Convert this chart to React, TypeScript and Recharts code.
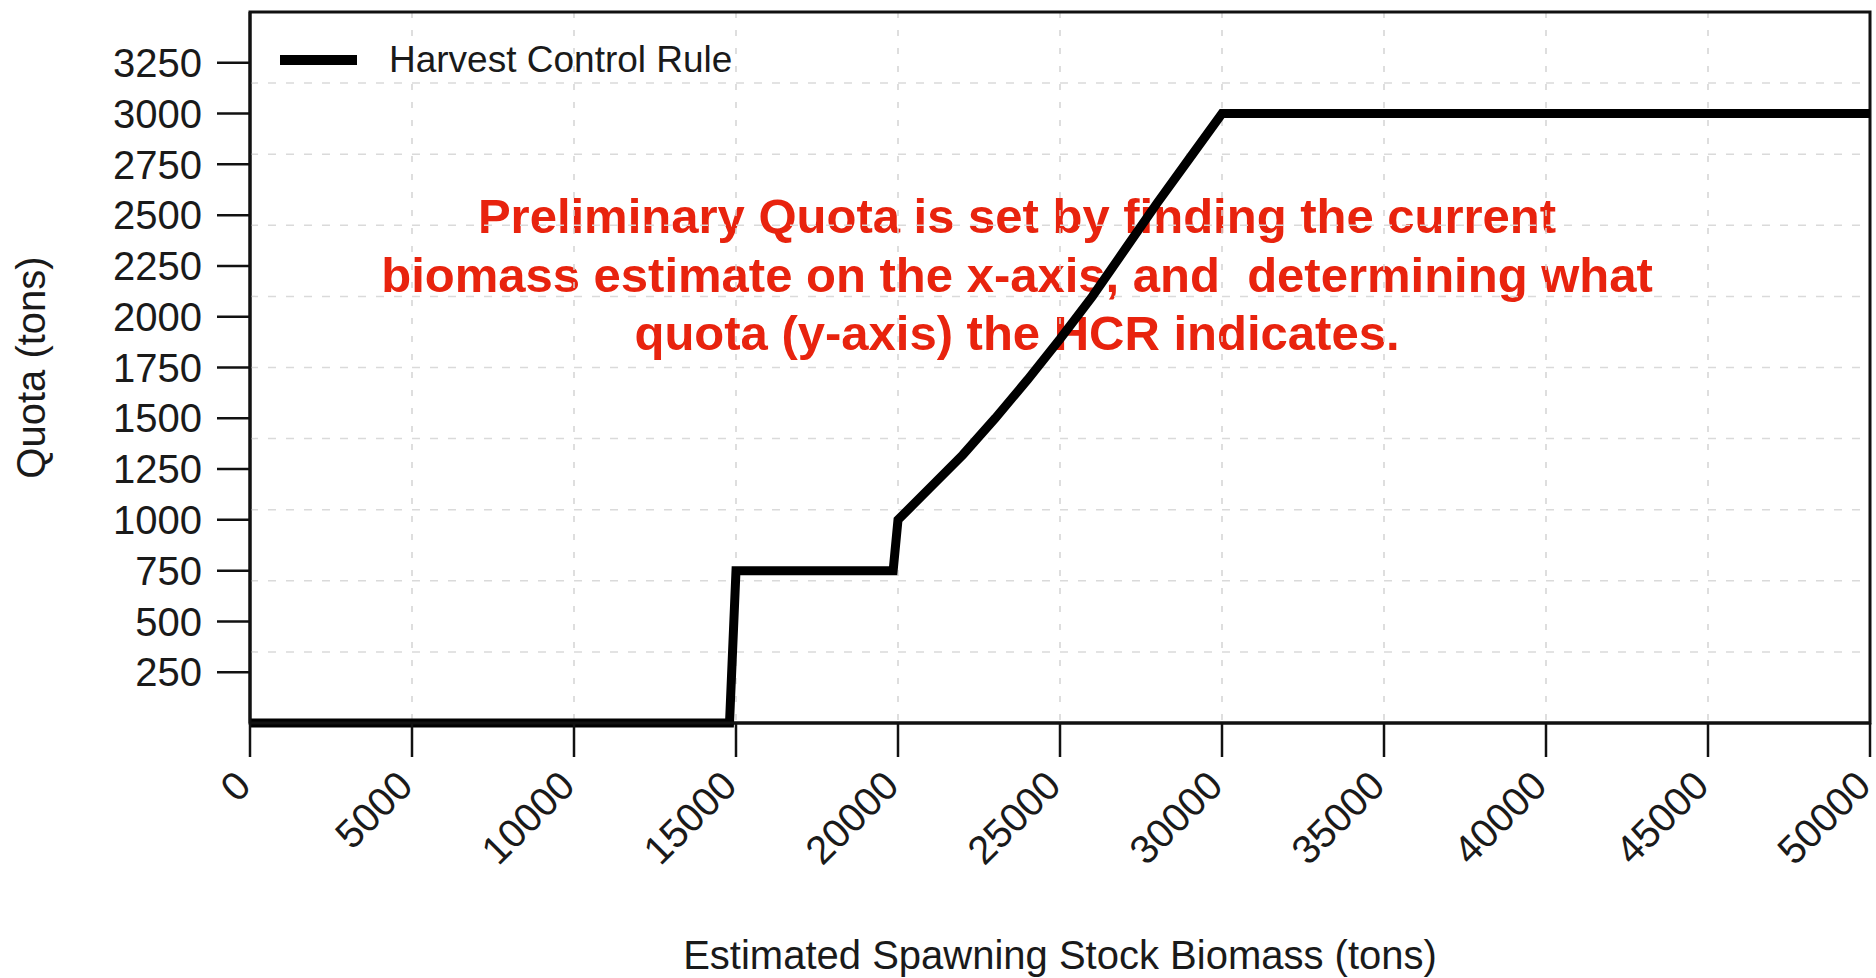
import { LineChart, Line, XAxis, YAxis, CartesianGrid, ReferenceLine, ReferenceArea, Legend } from 'recharts'

// Harvest control rule: estimated SSB (tons) -> quota (tons)
const biomass = [0, 14800, 15000, 19850, 20000, 21000, 22000, 23000, 24000, 25000, 26000, 27000, 28000, 29000, 30000, 50000]
const quota = [0, 0, 750, 750, 1000, 1160, 1320, 1500, 1690, 1890, 2100, 2330, 2560, 2780, 3000, 3000]

const xTicks = [0, 5000, 10000, 15000, 20000, 25000, 30000, 35000, 40000, 45000, 50000]
const yTicks = [250, 500, 750, 1000, 1250, 1500, 1750, 2000, 2250, 2500, 2750, 3000, 3250]
// grid(10, 10) style horizontal lines, not tied to the y ticks
const yGrid = [350, 700, 1050, 1400, 1750, 2100, 2450, 2800, 3150]

const noteLines = [
  'Preliminary Quota is set by finding the current',
  'biomass estimate on the x-axis, and  determining what',
  'quota (y-axis) the HCR indicates.',
]

const FONT = '"Liberation Sans", Arial, Helvetica, sans-serif'
const INK = '#1a1a1a'

const data = biomass.map((b, i) => ({ biomass: b, quota: quota[i] }))

function XTick({ x, y, payload }: any) {
  return (
    <g transform={`translate(${x + 3},${y + 31})`}>
      <text textAnchor="end" transform="rotate(-45)" fontSize={40} fill={INK} fontFamily={FONT}>
        {payload.value}
      </text>
    </g>
  )
}

function YTitle({ viewBox }: any) {
  const cx = 45
  const cy = viewBox.y + viewBox.height / 2
  return (
    <text x={cx} y={cy} transform={`rotate(-90 ${cx} ${cy})`} textAnchor="middle" fontSize={40} fill={INK} fontFamily={FONT}>
      Quota (tons)
    </text>
  )
}

function XTitle({ viewBox }: any) {
  const cx = viewBox.x + viewBox.width / 2
  return (
    <text x={cx} y={969} textAnchor="middle" fontSize={40} fill={INK} fontFamily={FONT}>
      Estimated Spawning Stock Biomass (tons)
    </text>
  )
}

function HcrLegend() {
  return (
    <div style={{ display: 'flex', alignItems: 'center', height: 37, fontFamily: FONT, fontSize: 37, color: INK, whiteSpace: 'nowrap' }}>
      <svg width={77} height={10} style={{ display: 'block' }}>
        <line x1={0} y1={5} x2={77} y2={5} stroke="#000" strokeWidth={10} />
      </svg>
      <span style={{ marginLeft: 32, lineHeight: '37px' }}>Harvest Control Rule</span>
    </div>
  )
}

export default function App() {
  return (
    <div style={{ position: 'absolute', left: 0, top: 0, width: 1876, height: 978, background: '#fff' }}>
      <div
        style={{
          position: 'absolute',
          left: 1017,
          top: 187,
          transform: 'translateX(-50%)',
          fontFamily: FONT,
          fontWeight: 'bold',
          fontSize: 49,
          lineHeight: '58.6px',
          color: '#e8230e',
          textAlign: 'center',
          whiteSpace: 'pre',
        }}
      >
        {noteLines.map((l) => (
          <div key={l}>{l}</div>
        ))}
      </div>
      <div style={{ position: 'absolute', left: 0, top: 0 }}>
        <LineChart width={1876} height={978} data={data} margin={{ top: 12, right: 6, bottom: 0, left: 0 }}>
          <CartesianGrid horizontal={false} stroke="#d4d4d4" strokeDasharray="6 12" strokeWidth={1.5} />
          {yGrid.map((v) => (
            <ReferenceLine key={v} y={v} stroke="#dadada" strokeDasharray="8 10" strokeWidth={1.5} />
          ))}
          <XAxis
            dataKey="biomass"
            type="number"
            domain={[0, 50000]}
            ticks={xTicks}
            interval={0}
            height={255}
            tickSize={34}
            tickMargin={0}
            tick={<XTick />}
            tickLine={{ stroke: '#111', strokeWidth: 2.5 }}
            axisLine={{ stroke: '#111', strokeWidth: 3 }}
            label={<XTitle />}
          />
          <YAxis
            type="number"
            domain={[0, 3500]}
            ticks={yTicks}
            interval={0}
            width={250}
            tickSize={33}
            tickMargin={15}
            tick={{ fontSize: 40, fill: INK, fontFamily: FONT }}
            tickLine={{ stroke: '#111', strokeWidth: 2.5 }}
            axisLine={{ stroke: '#111', strokeWidth: 3 }}
            label={<YTitle />}
          />
          <ReferenceArea x1={0} x2={50000} y1={0} y2={3500} fill="none" stroke="#111" strokeWidth={3} />
          <Legend
            layout="horizontal"
            verticalAlign="middle"
            align="center"
            content={<HcrLegend />}
            wrapperStyle={{ left: 280, top: 41, width: 'auto' }}
          />
          <Line
            type="linear"
            dataKey="quota"
            stroke="#000"
            strokeWidth={9}
            dot={false}
            activeDot={false}
            isAnimationActive={false}
          />
        </LineChart>
      </div>
    </div>
  )
}
